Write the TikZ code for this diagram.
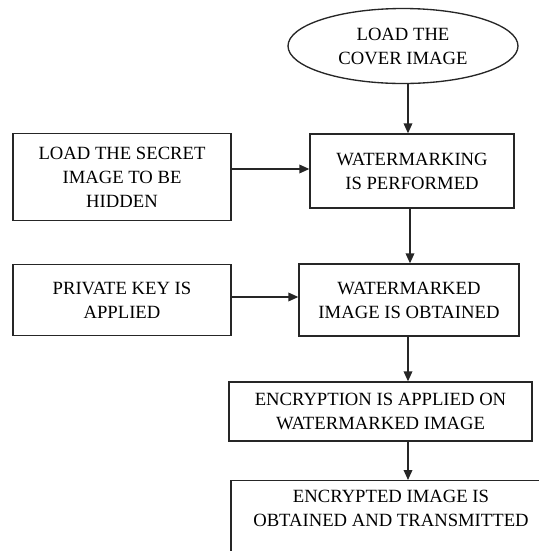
\documentclass[tikz,border=0pt]{standalone}
\usepackage{fontspec}
\setmainfont{Liberation Serif}
\usetikzlibrary{shapes.geometric,arrows.meta}
\tikzset{
  box/.style={draw=black!85, line width=1pt, inner sep=0pt, align=center,
    font=\fontsize{14}{18}\selectfont},
  oval/.style={box, ellipse},
  arr/.style={draw=black!85, line width=1pt, -{Triangle[length=7.5pt,width=6.5pt]}}
}
\begin{document}
\begin{tikzpicture}[x=0.75pt,y=-0.75pt]
\clip (0,0) rectangle (539,551);
\fill[white] (0,0) rectangle (539,551);

\node[oval, minimum width=172.5pt, minimum height=56.25pt] (cover) at (403,46) {LOAD THE\\COVER IMAGE};
\node[box, minimum width=163.5pt, minimum height=65.25pt] (secret) at (122,177) {LOAD THE SECRET\\IMAGE TO BE\\HIDDEN};
\node[box, minimum width=153pt, minimum height=55.5pt] (wm) at (412,171) {WATERMARKING\\IS PERFORMED};
\node[box, minimum width=163.5pt, minimum height=53.25pt] (privkey) at (122,300) {PRIVATE KEY IS\\APPLIED};
\node[box, minimum width=165pt, minimum height=54pt] (wmd) at (409,300) {WATERMARKED\\IMAGE IS OBTAINED};
\node[box, minimum width=227.25pt, minimum height=44.25pt] (enc) at (380.5,411.5) {ENCRYPTION IS APPLIED ON\\WATERMARKED IMAGE};
\node[box, anchor=north] (final) at (391,480) {\parbox[t][67.5pt][t]{240pt}{\centering\vspace{7pt}ENCRYPTED IMAGE IS\\OBTAINED AND TRANSMITTED}};

\coordinate (s1) at (408,0);
\coordinate (s2) at (410,0);
\coordinate (a1) at ([yshift=6pt]secret.east);
\coordinate (a2) at ([yshift=2.25pt]privkey.east);

\draw[arr] (cover.south -| s1) -- (wm.north -| s1);
\draw[arr] (a1) -- (a1 -| wm.west);
\draw[arr] (wm.south -| s2) -- (wmd.north -| s2);
\draw[arr] (a2) -- (a2 -| wmd.west);
\draw[arr] (wmd.south -| s1) -- (enc.north -| s1);
\draw[arr] (enc.south -| s1) -- (final.north -| s1);
\end{tikzpicture}
\end{document}
